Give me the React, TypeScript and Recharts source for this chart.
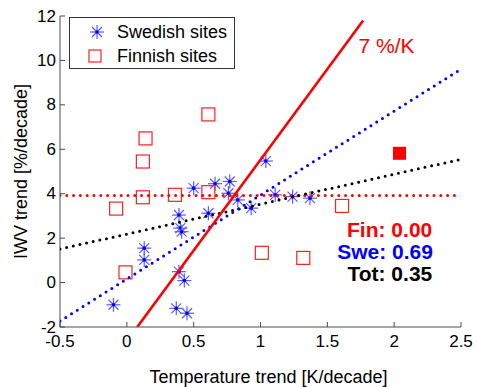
import { ScatterChart, Scatter, XAxis, YAxis, Legend } from "recharts";

const X_TICKS = [-0.5, 0, 0.5, 1, 1.5, 2, 2.5];
const Y_TICKS = [-2, 0, 2, 4, 6, 8, 10, 12];

const swedishSites = [
  { x: -0.1, y: -1.0 },
  { x: 0.13, y: 1.55 },
  { x: 0.13, y: 1.02 },
  { x: 0.39, y: 3.04 },
  { x: 0.4, y: 2.45 },
  { x: 0.41, y: 2.29 },
  { x: 0.39, y: 0.49 },
  { x: 0.43, y: 0.09 },
  { x: 0.37, y: -1.16 },
  { x: 0.45, y: -1.38 },
  { x: 0.5, y: 4.25 },
  { x: 0.66, y: 4.45 },
  { x: 0.77, y: 4.55 },
  { x: 0.76, y: 4.02 },
  { x: 0.83, y: 3.72 },
  { x: 0.61, y: 3.12 },
  { x: 0.93, y: 3.35 },
  { x: 1.04, y: 5.47 },
  { x: 1.11, y: 3.95 },
  { x: 1.24, y: 3.87 },
  { x: 1.37, y: 3.8 },
];

const finnishSites = [
  { x: 0.61, y: 7.57 },
  { x: 0.14, y: 6.49 },
  { x: 0.12, y: 5.45 },
  { x: 0.12, y: 3.84 },
  { x: -0.08, y: 3.33 },
  { x: 0.36, y: 3.95 },
  { x: 0.61, y: 4.07 },
  { x: -0.01, y: 0.46 },
  { x: 1.01, y: 1.34 },
  { x: 1.32, y: 1.11 },
  { x: 1.61, y: 3.45 },
];

const finnishHighlight = [{ x: 2.04, y: 5.82 }];

// 7 %/K reference line and the three regression fits
const ccLine = [
  { x: 0.078, y: -2 },
  { x: 1.768, y: 11.8 },
];
const finFit = [
  { x: -0.5, y: 3.92 },
  { x: 2.5, y: 3.92 },
];
const sweFit = [
  { x: -0.5, y: -1.73 },
  { x: 2.5, y: 9.61 },
];
const totFit = [
  { x: -0.5, y: 1.51 },
  { x: 2.5, y: 5.55 },
];

const annotations = [
  { x: 1.943, y: 10.67, text: "7 %/K", color: "#ff0000", bold: false, anchor: "middle" },
  { x: 2.285, y: 2.4, text: "Fin: 0.00", color: "#ff0000", bold: true, anchor: "end" },
  { x: 2.29, y: 1.39, text: "Swe: 0.69", color: "#0000ff", bold: true, anchor: "end" },
  { x: 2.285, y: 0.386, text: "Tot: 0.35", color: "#000000", bold: true, anchor: "end" },
];

const FONT = '"Liberation Sans", Arial, Helvetica, sans-serif';
const FRAME = "#4a4a4a";
const TICK_LEN = 5;

function Star({ cx, cy }: any) {
  const r = 7;
  const d = 5;
  return (
    <g>
      <g stroke="#5a5aff" strokeWidth={1.2}>
        <line x1={cx - r} y1={cy} x2={cx + r} y2={cy} />
        <line x1={cx} y1={cy - r} x2={cx} y2={cy + r} />
        <line x1={cx - d} y1={cy - d} x2={cx + d} y2={cy + d} />
        <line x1={cx - d} y1={cy + d} x2={cx + d} y2={cy - d} />
      </g>
      <circle cx={cx} cy={cy} r={1.8} fill="#0000ff" />
    </g>
  );
}

function OpenSquare({ cx, cy }: any) {
  return <rect x={cx - 6.5} y={cy - 6.5} width={13} height={13} fill="none" stroke="#ff2020" strokeWidth={1.2} />;
}

function FilledSquare({ cx, cy }: any) {
  return <rect x={cx - 6.5} y={cy - 6.5} width={13} height={13} fill="#ff0000" />;
}

function NoMark() {
  return <g />;
}

function AnnotationText({ cx, cy, payload }: any) {
  return (
    <text
      x={cx}
      y={cy}
      textAnchor={payload.anchor}
      dominantBaseline="central"
      fill={payload.color}
      fontSize={21}
      fontWeight={payload.bold ? "bold" : "normal"}
      fontFamily={FONT}
    >
      {payload.text}
    </text>
  );
}

function BottomTick({ x, y, payload }: any) {
  return (
    <g>
      <line x1={x} y1={y} x2={x} y2={y - TICK_LEN} stroke={FRAME} />
      <text x={x} y={y + 20} textAnchor="middle" fontSize={17} fontFamily={FONT} fill="#000">
        {payload.value}
      </text>
    </g>
  );
}

function LeftTick({ x, y, payload }: any) {
  return (
    <g>
      <line x1={x} y1={y} x2={x + TICK_LEN} y2={y} stroke={FRAME} />
      <text x={x - 4} y={y} textAnchor="end" dominantBaseline="central" fontSize={17} fontFamily={FONT} fill="#000">
        {payload.value}
      </text>
    </g>
  );
}

function TopTick({ x, y }: any) {
  return <line x1={x} y1={y} x2={x} y2={y + TICK_LEN} stroke={FRAME} />;
}

function RightTick({ x, y }: any) {
  return <line x1={x} y1={y} x2={x - TICK_LEN} y2={y} stroke={FRAME} />;
}

function LegendBox() {
  return (
    <svg width={166} height={52} style={{ display: "block" }}>
      <rect x={0.5} y={0.5} width={165} height={51} fill="#fff" stroke="#333" />
      <Star cx={28} cy={15} />
      <text x={48} y={15} dominantBaseline="central" fontSize={18} fontFamily={FONT} fill="#000">
        Swedish sites
      </text>
      <rect x={20} y={33} width={12} height={12} fill="none" stroke="#ff2020" strokeWidth={1.2} />
      <text x={48} y={39} dominantBaseline="central" fontSize={18} fontFamily={FONT} fill="#000">
        Finnish sites
      </text>
    </svg>
  );
}

function XTitle({ viewBox }: any) {
  return (
    <text
      x={viewBox.x + viewBox.width / 2 + 8}
      y={viewBox.y + 56}
      textAnchor="middle"
      fontSize={18}
      fontFamily={FONT}
      fill="#000"
    >
      Temperature trend [K/decade]
    </text>
  );
}

function YTitle({ viewBox }: any) {
  const cx = viewBox.x + 21;
  const cy = viewBox.y + viewBox.height / 2;
  return (
    <text
      x={cx}
      y={cy}
      transform={`rotate(-90, ${cx}, ${cy})`}
      textAnchor="middle"
      dominantBaseline="central"
      fontSize={18}
      fontFamily={FONT}
      fill="#000"
    >
      IWV trend [%/decade]
    </text>
  );
}

export default function App() {
  return (
    <div style={{ position: "absolute", left: 0, top: 0, width: 477, height: 387, background: "#fff" }}>
      <ScatterChart width={477} height={387} margin={{ top: 16, right: 16, bottom: 0, left: 0 }}>
        <XAxis
          xAxisId={0}
          type="number"
          dataKey="x"
          domain={[-0.5, 2.5]}
          ticks={X_TICKS}
          interval={0}
          allowDataOverflow
          height={60}
          tickSize={0}
          tickMargin={0}
          tickLine={false}
          axisLine={{ stroke: FRAME }}
          tick={BottomTick}
          label={<XTitle />}
        />
        <XAxis
          xAxisId="top"
          orientation="top"
          type="number"
          dataKey="x"
          domain={[-0.5, 2.5]}
          ticks={X_TICKS}
          interval={0}
          allowDataOverflow
          height={0}
          tickSize={0}
          tickMargin={0}
          tickLine={false}
          axisLine={{ stroke: FRAME }}
          tick={TopTick}
        />
        <YAxis
          yAxisId={0}
          type="number"
          dataKey="y"
          domain={[-2, 12]}
          ticks={Y_TICKS}
          interval={0}
          allowDataOverflow
          width={60}
          tickSize={0}
          tickMargin={0}
          tickLine={false}
          axisLine={{ stroke: FRAME }}
          tick={LeftTick}
          label={<YTitle />}
        />
        <YAxis
          yAxisId="right"
          orientation="right"
          type="number"
          dataKey="y"
          domain={[-2, 12]}
          ticks={Y_TICKS}
          interval={0}
          allowDataOverflow
          width={0}
          tickSize={0}
          tickMargin={0}
          tickLine={false}
          axisLine={{ stroke: FRAME }}
          tick={RightTick}
        />
        <Legend
          layout="horizontal"
          verticalAlign="middle"
          align="center"
          content={<LegendBox />}
          wrapperStyle={{ position: "absolute", left: 69, top: 17, width: 166, height: 52 }}
        />
        <Scatter name="Swedish sites" data={swedishSites} shape={Star} isAnimationActive={false} />
        <Scatter name="Finnish sites" data={finnishSites} shape={OpenSquare} isAnimationActive={false} />
        <Scatter data={finnishHighlight} shape={FilledSquare} isAnimationActive={false} legendType="none" />
        <Scatter
          data={finFit}
          fill="#ff0000"
          shape={NoMark}
          line={{ stroke: "#ff0000", strokeWidth: 3, strokeDasharray: "0 6.8", strokeLinecap: "round" }}
          isAnimationActive={false}
          legendType="none"
        />
        <Scatter
          data={totFit}
          fill="#000000"
          shape={NoMark}
          line={{ stroke: "#000000", strokeWidth: 3, strokeDasharray: "0 6.8", strokeLinecap: "round" }}
          isAnimationActive={false}
          legendType="none"
        />
        <Scatter
          data={sweFit}
          fill="#0000ff"
          shape={NoMark}
          line={{ stroke: "#0000ff", strokeWidth: 3, strokeDasharray: "0 6.8", strokeLinecap: "round" }}
          isAnimationActive={false}
          legendType="none"
        />
        <Scatter
          data={ccLine}
          fill="#ff0000"
          shape={NoMark}
          line={{ stroke: "#ff0000", strokeWidth: 2.6 }}
          isAnimationActive={false}
          legendType="none"
        />
        <Scatter data={annotations} shape={AnnotationText} isAnimationActive={false} legendType="none" />
      </ScatterChart>
    </div>
  );
}
